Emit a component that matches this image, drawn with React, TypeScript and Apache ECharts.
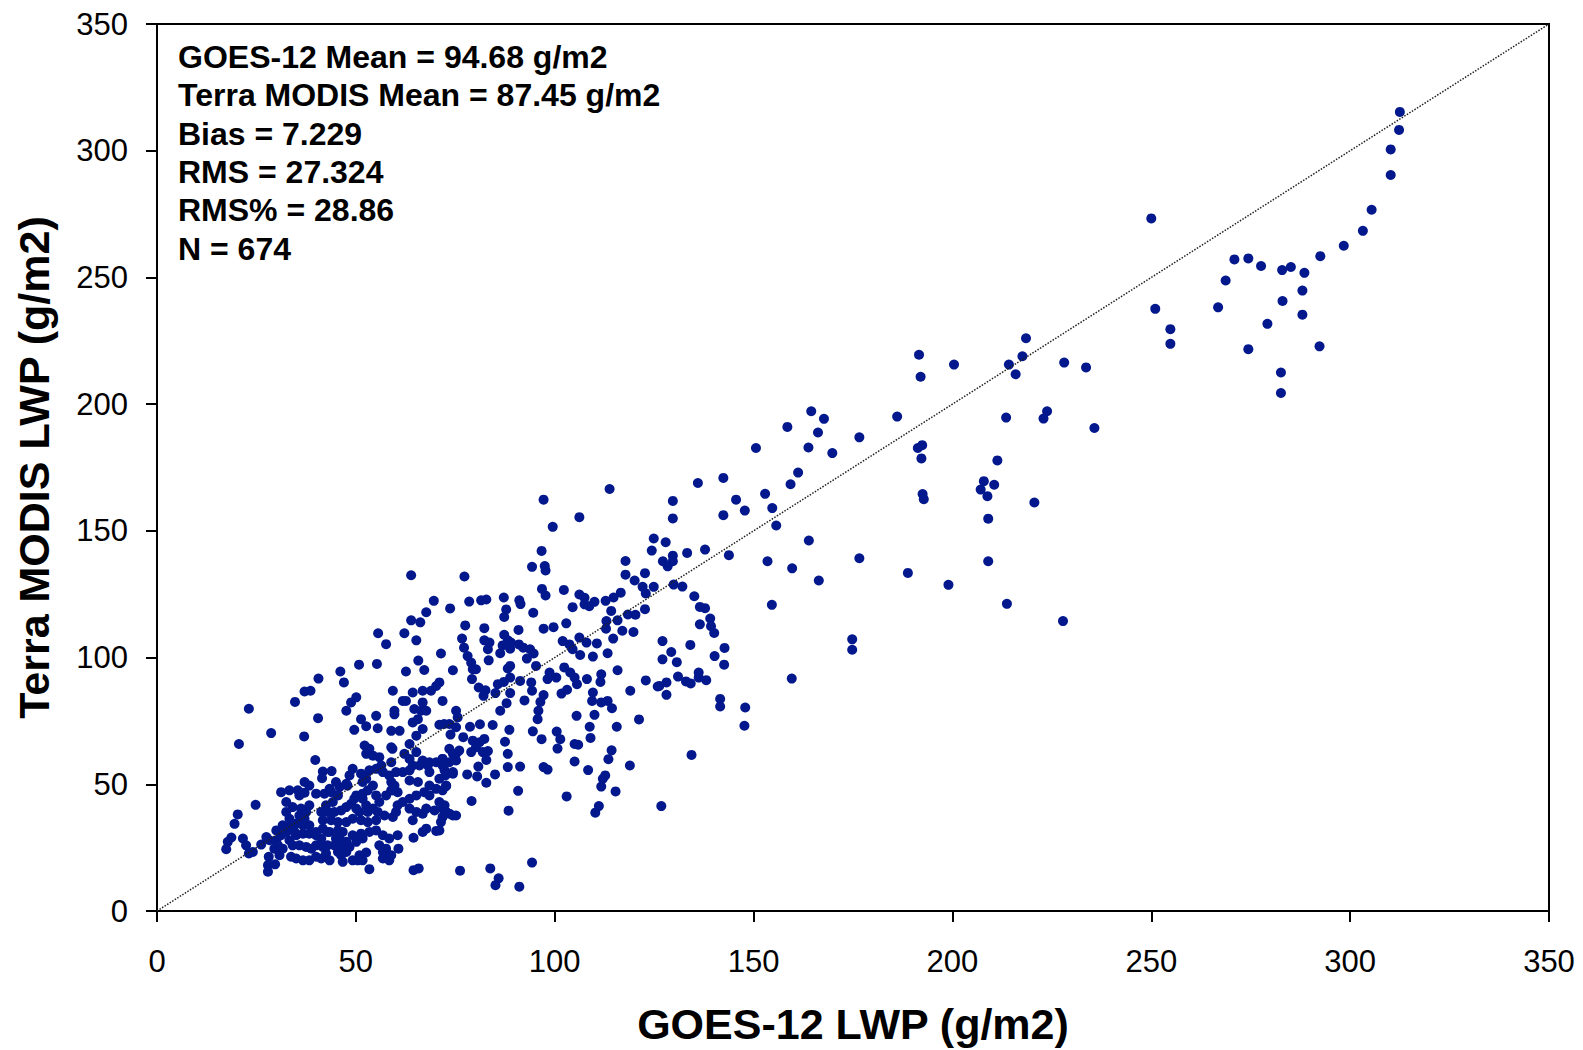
import React, { useEffect, useRef } from "react";
import * as echarts from "echarts";

// ---- Data (GOES-12 LWP, Terra MODIS LWP) in g/m2 ----
const highPoints: number[][] = [
  [312.5, 315.3], [312.3, 308.2], [310.2, 300.5], [310.2, 290.4], [305.4, 276.7], [303.2, 268.4],
  [298.4, 262.5], [292.5, 258.4], [288.5, 251.8], [288.0, 244.8], [288.0, 235.3], [285.1, 254.1],
  [282.9, 252.9], [283.0, 240.7], [279.2, 231.7], [277.6, 254.5], [274.4, 257.5], [270.9, 257.1],
  [268.7, 248.8], [266.8, 238.2], [274.4, 221.7], [282.6, 212.5], [282.6, 204.4], [292.3, 222.8],
  [250.0, 273.3], [251.0, 237.6], [254.8, 229.6], [254.8, 223.8],
];

const upperMidPoints: number[][] = [
  [191.6, 219.5], [192.0, 210.8], [200.4, 215.6], [218.5, 226.0], [217.6, 218.9], [214.2, 215.6],
  [215.9, 211.8], [228.1, 216.4], [233.6, 214.5], [186.1, 195.1], [176.6, 186.9], [213.5, 194.7],
  [223.8, 197.2], [222.9, 194.3], [235.7, 190.6], [192.4, 183.8], [191.3, 182.7], [192.2, 178.6],
  [211.3, 177.8], [207.9, 169.6], [210.5, 168.2], [207.1, 166.3], [208.8, 163.7], [192.5, 164.5],
  [192.8, 162.5], [220.6, 161.2], [209.0, 154.8], [176.6, 139.2], [209.0, 138.0], [188.8, 133.4],
  [199.0, 128.7], [213.7, 121.2], [227.8, 114.4],
];

const midPoints: number[][] = [
  [164.5, 197.2], [167.7, 194.2], [158.5, 191.0], [166.2, 188.8], [163.8, 182.9], [169.8, 180.7],
  [150.6, 182.7], [161.2, 173.0], [159.3, 168.4], [136.0, 168.9], [142.4, 170.9], [129.7, 161.8],
  [129.7, 154.9], [145.6, 162.3], [147.8, 158.0], [142.4, 156.2], [152.9, 164.6], [154.7, 159.0],
  [155.7, 152.1], [163.9, 146.2], [166.4, 130.4], [153.5, 138.0], [159.7, 135.2], [154.6, 120.8],
  [143.8, 140.4], [137.8, 142.6], [133.3, 141.3], [127.9, 145.5], [129.7, 140.2], [127.2, 138.0],
  [128.4, 136.0], [129.7, 138.0], [129.9, 128.8], [132.1, 128.0], [135.1, 124.2], [136.5, 120.0],
  [137.8, 119.5], [139.1, 115.4], [136.5, 113.1], [139.3, 112.4], [140.1, 109.7], [127.1, 106.5],
  [134.1, 105.0], [129.3, 102.2], [127.1, 99.3], [130.7, 98.2], [140.2, 100.6], [142.7, 103.8],
  [142.6, 97.2], [131.0, 92.5], [133.0, 90.6], [134.2, 89.8], [136.2, 94.1], [136.2, 92.1],
  [138.1, 91.1], [128.1, 90.2], [126.3, 88.8], [128.1, 85.3], [141.6, 83.7], [141.6, 80.7],
  [147.9, 80.3], [147.7, 73.1], [159.6, 91.7], [174.8, 107.2], [174.8, 103.1], [134.4, 61.6],
  [126.8, 41.4],
  [113.8, 166.5], [106.2, 155.4], [124.9, 147.0], [124.4, 142.2], [117.8, 138.1], [117.8, 132.7],
  [120.1, 130.4], [122.7, 133.3], [122.1, 127.9], [122.9, 125.3], [124.9, 127.9], [116.6, 125.6],
  [114.8, 123.7], [112.8, 122.4], [102.3, 126.7], [106.2, 124.9], [107.5, 123.6], [108.7, 120.3],
  [107.5, 121.0], [110.0, 122.0], [104.5, 119.9], [102.9, 113.5], [114.2, 118.4], [113.0, 114.4],
  [115.8, 114.7], [118.4, 117.0], [120.3, 116.9], [122.7, 119.1], [112.9, 111.4], [117.0, 110.6],
  [119.8, 110.1], [114.7, 107.5], [106.2, 107.9], [103.7, 105.2], [102.0, 106.5], [104.5, 103.3],
  [108.0, 105.9], [110.6, 105.6], [106.4, 101.0], [109.6, 100.4], [113.3, 101.7],
];

const centralPoints: number[][] = [
  [94.3, 135.8], [97.7, 134.4], [77.3, 132.0], [78.5, 122.1], [81.5, 122.6], [82.8, 122.9],
  [73.7, 119.4], [87.2, 123.7], [91.1, 122.6], [91.4, 121.1], [96.8, 127.1], [97.7, 124.5],
  [87.8, 119.0], [87.3, 116.0], [94.6, 117.7], [77.5, 112.7], [82.3, 111.6], [87.3, 109.0],
  [88.2, 106.8], [89.0, 105.9], [86.9, 104.8], [88.8, 103.5], [91.0, 105.2], [92.1, 103.9],
  [93.8, 103.3], [94.7, 101.6], [93.0, 99.6], [90.9, 110.9], [82.3, 106.8], [83.6, 105.9],
  [83.2, 103.3], [76.7, 107.5], [77.2, 103.9], [71.4, 101.6], [74.4, 95.0], [86.3, 101.7],
  [83.4, 98.9], [97.2, 111.4], [99.7, 112.0], [95.3, 96.7],
  [78.1, 100.6], [79.0, 98.0], [79.4, 95.4], [80.2, 95.4], [79.2, 91.5], [80.9, 88.2],
  [82.6, 87.1], [82.1, 84.9], [85.7, 89.5], [87.2, 90.4], [88.8, 92.1], [88.2, 95.7],
  [88.8, 96.7], [85.1, 86.0], [88.8, 86.0], [87.9, 82.0], [86.3, 79.0], [91.3, 90.8],
  [94.1, 90.2], [94.3, 86.9], [92.4, 83.1], [98.7, 94.1], [100.4, 92.1], [98.2, 91.5],
  [97.2, 85.2], [96.4, 82.5], [95.9, 79.0], [95.7, 75.7], [101.7, 85.8], [103.1, 87.3],
  [102.4, 96.1], [103.9, 94.1], [105.0, 92.1], [105.6, 89.5], [108.1, 91.5], [111.7, 93.4],
  [111.5, 90.4], [109.6, 86.2], [109.4, 82.9], [111.7, 82.3], [113.3, 82.9], [114.4, 80.0],
  [115.8, 95.0], [119.0, 86.9], [122.9, 91.0], [125.9, 88.6],
  [121.2, 75.6], [115.6, 72.7], [110.0, 77.4], [108.8, 72.7], [109.0, 68.3], [105.5, 77.0],
  [100.5, 70.8], [101.4, 67.8], [100.7, 64.1], [105.0, 65.9], [105.9, 65.6], [94.5, 70.9],
  [96.7, 67.8], [88.6, 71.5], [87.5, 66.8], [84.4, 73.4], [81.2, 73.7], [78.7, 72.7],
  [77.0, 68.6], [73.8, 69.6], [72.2, 73.8], [71.0, 73.5], [79.4, 67.2], [81.1, 66.6],
  [82.3, 67.9], [80.2, 64.6], [79.0, 62.7], [81.9, 62.7], [83.2, 63.1], [74.4, 62.0],
  [76.0, 63.3], [71.8, 60.0], [73.5, 58.7], [75.2, 59.4], [88.2, 62.0],
  [88.2, 56.8], [91.3, 57.0], [82.8, 59.6], [80.8, 57.0], [78.0, 53.9], [80.5, 53.1],
  [82.8, 50.6], [85.0, 53.9], [74.4, 54.8], [72.5, 53.5], [72.7, 49.3], [71.0, 52.2],
  [71.0, 43.0], [72.3, 41.7], [73.5, 38.4], [71.8, 37.1], [74.4, 37.7], [71.4, 35.1],
  [71.0, 31.8], [79.1, 43.4], [90.8, 47.4], [88.4, 39.6], [103.0, 45.2], [97.2, 56.8],
  [98.2, 55.8], [105.0, 59.0], [108.4, 55.6], [112.7, 53.5], [112.1, 52.2], [111.7, 49.1],
  [113.5, 59.9], [114.3, 63.4], [115.3, 47.2], [111.1, 41.4], [110.2, 38.8], [118.9, 57.4],
  [76.2, 15.9], [83.8, 16.8], [85.9, 12.9], [85.1, 10.2], [91.1, 9.6], [94.3, 19.1],
  [55.6, 109.6], [63.9, 132.5], [66.2, 113.9], [65.2, 106.8], [62.2, 109.6], [97.2, 162.3],
  [99.5, 151.6], [96.7, 142.1], [97.5, 136.1], [69.6, 122.4], [67.7, 117.9], [63.9, 114.7],
];

const lowClusterPoints: number[][] = [
  [57.6, 105.3], [50.8, 97.2], [55.3, 97.5], [65.7, 98.8], [67.2, 95.1], [62.6, 94.5],
  [46.1, 94.5], [47.0, 90.2], [40.6, 91.7], [37.1, 86.6], [38.6, 86.9], [34.7, 82.5],
  [23.1, 79.8], [40.5, 76.1], [28.7, 70.2], [37.0, 68.9], [20.6, 65.9], [39.8, 59.6],
  [41.7, 55.0], [43.9, 55.2], [41.5, 52.4], [24.8, 41.9], [20.3, 38.1], [19.5, 34.4],
  [18.7, 29.0], [17.8, 27.3], [17.4, 24.4], [21.6, 28.6], [22.4, 25.9], [24.1, 23.3],
  [23.1, 22.7], [26.2, 26.2], [27.5, 29.2], [28.1, 21.4], [27.9, 18.1], [27.9, 15.5],
  [29.7, 18.4], [30.8, 22.0], [31.6, 24.6], [29.5, 24.6],
  [33.3, 27.9], [35.0, 29.9], [36.7, 30.5], [38.3, 30.5], [40.0, 29.9], [34.1, 25.9],
  [35.8, 25.9], [37.5, 25.3], [38.8, 24.6], [33.7, 21.4], [35.0, 20.7], [36.7, 20.0],
  [38.3, 20.0], [40.0, 21.4], [41.3, 20.7], [42.5, 22.7], [43.4, 20.0], [40.0, 25.9],
  [41.7, 25.3], [41.3, 28.6], [42.9, 25.9], [43.4, 31.2], [45.5, 31.8], [46.7, 31.2],
  [45.9, 28.6], [46.7, 25.9], [47.6, 23.3], [46.3, 22.0], [46.7, 19.4], [49.2, 20.0],
  [50.5, 20.0], [52.6, 23.1], [53.4, 16.5], [57.6, 21.8], [56.8, 20.7], [58.4, 20.0],
  [64.5, 16.1], [65.8, 16.8], [60.5, 29.9], [60.7, 24.6], [64.5, 28.9], [66.8, 31.2],
  [67.7, 32.5], [70.2, 31.6],
  [28.3, 27.9], [30.0, 27.9], [31.2, 29.9], [32.5, 31.2], [30.4, 25.9], [33.7, 33.8],
  [35.0, 34.5], [36.7, 33.8], [34.6, 31.2], [38.3, 33.8], [40.0, 31.2], [41.7, 32.5],
  [42.9, 31.2], [31.2, 46.9], [33.3, 47.6], [32.5, 43.0], [35.8, 45.6], [37.1, 46.7],
  [34.1, 41.0], [36.2, 40.4], [37.5, 39.1], [35.8, 37.7], [37.1, 36.4], [38.3, 41.7],
  [40.0, 46.3], [42.1, 46.3], [43.8, 46.9], [45.5, 45.6], [44.2, 43.0], [42.5, 41.7],
  [41.3, 39.1], [42.9, 39.1], [44.6, 39.1], [46.3, 39.7], [47.6, 41.0], [48.8, 42.3],
  [49.6, 44.3], [47.9, 49.5],
  [41.7, 35.8], [43.8, 35.8], [45.5, 35.1], [47.6, 35.1], [49.2, 36.4], [51.3, 35.8],
  [53.0, 35.1], [55.1, 35.8], [45.0, 28.6], [44.6, 25.9], [45.5, 23.3], [47.6, 27.3],
  [48.4, 25.3], [50.1, 45.6], [51.7, 44.3], [52.6, 41.7], [54.3, 40.4], [55.9, 43.0],
  [57.6, 45.6], [58.9, 47.6], [50.9, 39.1], [50.1, 40.4], [53.0, 39.1], [55.5, 39.1],
  [57.2, 37.7], [59.3, 37.1], [60.1, 39.1], [49.2, 29.9], [51.3, 30.5], [51.7, 28.6],
  [50.1, 27.3], [53.4, 31.2], [55.1, 31.8], [56.8, 29.9], [58.4, 28.6], [55.9, 25.9],
  [57.6, 24.6], [56.8, 23.3], [58.9, 22.0], [50.9, 22.0], [51.7, 20.0],
  [60.5, 41.7], [61.8, 43.0], [63.5, 44.3], [65.2, 45.6], [67.2, 46.9], [68.5, 45.6],
  [70.2, 48.2], [71.8, 47.6], [63.5, 40.4], [65.2, 39.1], [66.8, 38.4], [67.7, 40.4],
  [69.8, 39.7], [71.8, 40.4], [72.7, 39.1], [75.2, 37.7], [64.3, 35.8], [60.5, 46.9],
  [58.9, 50.9], [59.2, 47.6], [63.5, 51.5], [65.6, 50.9], [68.5, 49.5], [72.7, 49.5],
  [58.4, 53.5], [59.7, 49.5], [56.8, 54.8], [55.1, 56.1], [53.4, 55.5], [52.6, 52.2],
  [51.3, 54.2], [49.2, 56.1], [48.4, 53.5], [47.6, 50.2], [45.0, 50.9], [43.4, 48.2],
  [45.9, 48.9], [38.3, 49.5], [37.1, 50.9], [35.4, 47.6], [33.3, 36.4], [31.6, 33.8],
  [30.0, 31.8], [32.5, 39.1], [51.7, 50.9], [51.7, 46.3], [53.0, 47.6], [54.3, 49.5],
  [55.1, 45.6],
  [52.2, 65.3], [52.6, 62.0], [54.3, 61.3], [55.9, 60.7], [53.4, 64.0], [56.4, 57.4],
  [58.9, 58.7], [59.2, 64.0], [60.1, 54.8], [61.8, 54.8], [63.5, 55.5], [64.3, 57.4],
  [62.2, 62.0], [63.5, 60.0], [65.2, 62.7], [66.8, 59.4], [68.1, 57.4], [66.0, 57.4],
  [63.5, 65.9], [65.2, 69.2], [66.8, 71.8], [64.3, 74.4], [65.6, 75.7], [64.7, 79.7],
  [66.4, 79.0], [67.7, 79.0], [66.8, 82.3], [64.3, 86.2], [66.8, 86.9], [68.9, 86.9],
  [70.2, 88.8], [71.0, 90.2], [61.8, 82.9], [62.6, 82.9], [71.8, 82.9], [58.9, 71.1],
  [61.0, 71.1], [58.9, 64.6], [59.3, 86.9], [59.7, 79.0], [59.7, 77.6], [55.1, 77.0],
  [55.5, 72.1], [52.6, 72.9], [51.3, 75.7], [49.6, 71.5], [47.6, 79.0], [48.8, 82.3],
  [50.1, 84.3],
  [75.2, 79.0], [75.6, 76.4], [73.5, 73.8], [75.2, 72.5], [73.5, 64.0], [71.8, 60.0],
  [75.2, 62.0], [71.8, 57.4], [72.3, 55.5], [74.4, 54.2], [68.5, 58.7], [70.2, 58.7],
  [68.5, 54.8],
];

const oneToOneLine: number[][] = [[0, 0], [350, 350]];

const statsLines: string[] = [
  "GOES-12 Mean = 94.68 g/m2",
  "Terra MODIS Mean = 87.45 g/m2",
  "Bias = 7.229",
  "RMS = 27.324",
  "RMS% = 28.86",
  "N = 674",
];

const xAxisTitle = "GOES-12 LWP (g/m2)";
const yAxisTitle = "Terra MODIS LWP (g/m2)";
const axisMin = 0;
const axisMax = 350;
const axisStep = 50;

const FONT = "Arial, 'Liberation Sans', Helvetica, sans-serif";

export default function App() {
  const ref = useRef<HTMLDivElement>(null);

  useEffect(() => {
    if (!ref.current) return;
    const chart = echarts.init(ref.current, null, { renderer: "svg" });
    const allPoints = [
      ...lowClusterPoints,
      ...centralPoints,
      ...midPoints,
      ...upperMidPoints,
      ...highPoints,
    ];
    const axisCommon = {
      type: "value" as const,
      min: axisMin,
      max: axisMax,
      interval: axisStep,
      nameLocation: "middle" as const,
      nameTextStyle: {
        fontFamily: FONT,
        fontWeight: "bold" as const,
        fontSize: 43,
        color: "#000",
      },
      axisLine: { show: true, onZero: false, lineStyle: { color: "#000", width: 2 } },
      axisTick: { show: true, inside: false, length: 11, lineStyle: { color: "#000", width: 2 } },
      axisLabel: { fontFamily: FONT, fontSize: 31, color: "#000" },
      splitLine: { show: false },
    };
    chart.setOption({
      animation: false,
      backgroundColor: "#fff",
      grid: {
        left: 157,
        right: 34,
        top: 24,
        bottom: 135,
        show: true,
        borderColor: "#000",
        borderWidth: 2,
        backgroundColor: "transparent",
      },
      xAxis: {
        ...axisCommon,
        name: xAxisTitle,
        nameGap: 91,
        axisLabel: { ...axisCommon.axisLabel, margin: 35 },
      },
      yAxis: {
        ...axisCommon,
        name: yAxisTitle,
        nameGap: 102,
        nameRotate: 90,
        axisLabel: { ...axisCommon.axisLabel, margin: 29 },
      },
      series: [
        {
          type: "scatter",
          data: allPoints,
          symbol: "circle",
          symbolSize: 10,
          itemStyle: { color: "#03188D", opacity: 1 },
          z: 2,
        },
        {
          type: "line",
          data: oneToOneLine,
          symbol: "none",
          lineStyle: { color: "#222", width: 1.5, type: "dotted" },
          z: 3,
          silent: true,
        },
      ],
      graphic: [
        {
          type: "text",
          left: 178,
          top: 38,
          z: 10,
          style: {
            text: statsLines.join("\n"),
            font: `bold 32px ${FONT}`,
            lineHeight: 38.3,
            fill: "#000",
          },
        },
      ],
    });
    return () => chart.dispose();
  }, []);

  return (
    <div
      ref={ref}
      style={{ position: "absolute", left: 0, top: 0, width: 1583, height: 1050, background: "#fff" }}
    />
  );
}
